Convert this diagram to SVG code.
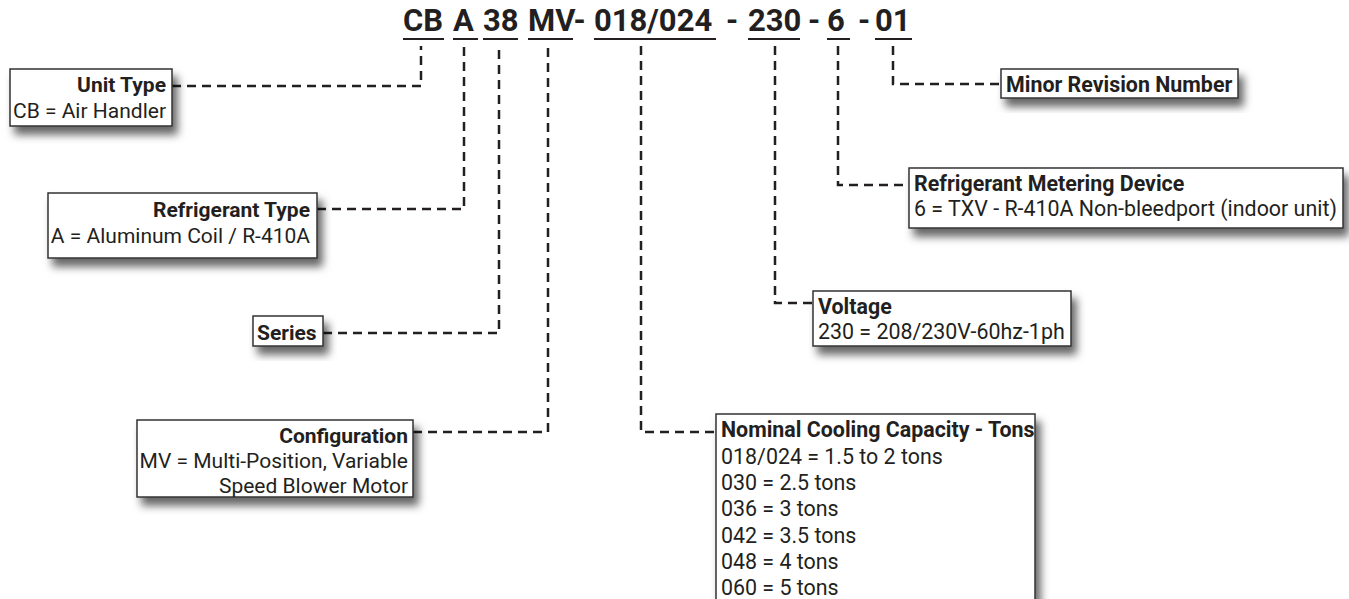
<svg xmlns="http://www.w3.org/2000/svg" width="1349" height="599" viewBox="0 0 1349 599">
<defs>
<filter id="sh" x="-10%" y="-20%" width="130%" height="170%">
<feDropShadow dx="5" dy="8" stdDeviation="4" flood-color="#000" flood-opacity="0.6"/>
</filter>
</defs>
<style>
.t{font-family:Roboto,"Liberation Sans",sans-serif;font-size:21.4px;fill:#231f20}
.l{font-size:21px}
.b{font-weight:bold}
.r{text-anchor:end}
.h{font-family:Roboto,"Liberation Sans",sans-serif;font-size:31px;font-weight:bold;fill:#231f20}
.box{fill:#fff;stroke:#333;stroke-width:1.5;filter:url(#sh)}
.c{fill:none;stroke:#231f20;stroke-width:2.5;stroke-dasharray:9 6}
.u{stroke:#231f20;stroke-width:2}
</style>
<rect width="1349" height="599" fill="#fff"/>
<g id="title">
<text class="h" y="31"><tspan x="403">CB</tspan><tspan x="453">A</tspan><tspan x="483">38</tspan><tspan x="528">MV-</tspan><tspan x="594">018/024</tspan><tspan x="726">-</tspan><tspan x="748">230</tspan><tspan x="808">-</tspan><tspan x="827">6</tspan><tspan x="858">-</tspan><tspan x="875">01</tspan></text>
<line class="u" x1="403" y1="39" x2="444" y2="39"/>
<line class="u" x1="453" y1="39" x2="478" y2="39"/>
<line class="u" x1="483" y1="39" x2="518" y2="39"/>
<line class="u" x1="528" y1="39" x2="573" y2="39"/>
<line class="u" x1="594" y1="39" x2="716" y2="39"/>
<line class="u" x1="748" y1="39" x2="800" y2="39"/>
<line class="u" x1="827" y1="39" x2="850" y2="39"/>
<line class="u" x1="875" y1="39" x2="912" y2="39"/>
</g>
<g id="connectors">
<path class="c" d="M172,86 H421 V46"/>
<path class="c" d="M317,209 H464 V46"/>
<path class="c" d="M323,333 H499 V46"/>
<path class="c" d="M413,432 H548 V46"/>
<path class="c" d="M641,46 V432 H716"/>
<path class="c" d="M775,46 V303 H813"/>
<path class="c" d="M838,46 V185 H909"/>
<path class="c" d="M893,46 V84 H1001"/>
</g>
<g id="unit-type">
<rect class="box" x="10" y="69" width="162" height="57"/>
<text class="t l b r" x="166" y="92">Unit Type</text>
<text class="t l r" x="166" y="118">CB = Air Handler</text>
</g>
<g id="refrigerant-type">
<rect class="box" x="48" y="193" width="269" height="65"/>
<text class="t l b r" x="310" y="217">Refrigerant Type</text>
<text class="t l r" x="310" y="243">A = Aluminum Coil / R-410A</text>
</g>
<g id="series">
<rect class="box" x="253" y="316" width="70" height="30"/>
<text class="t l b" x="257" y="340">Series</text>
</g>
<g id="configuration">
<rect class="box" x="137" y="420" width="276" height="77"/>
<text class="t l b r" x="408" y="443">Configuration</text>
<text class="t l r" x="408" y="468">MV = Multi-Position, Variable</text>
<text class="t l r" x="408" y="493">Speed Blower Motor</text>
</g>
<g id="nominal-capacity">
<rect class="box" x="716" y="414" width="319" height="210"/>
<text class="t b" x="721" y="437">Nominal Cooling Capacity - Tons</text>
<text class="t" x="721" y="464">018/024 = 1.5 to 2 tons</text>
<text class="t" x="721" y="490">030 = 2.5 tons</text>
<text class="t" x="721" y="516">036 = 3 tons</text>
<text class="t" x="721" y="543">042 = 3.5 tons</text>
<text class="t" x="721" y="569">048 = 4 tons</text>
<text class="t" x="721" y="595">060 = 5 tons</text>
</g>
<g id="voltage">
<rect class="box" x="813" y="291" width="258" height="55"/>
<text class="t b" x="818" y="314">Voltage</text>
<text class="t" x="818" y="339">230 = 208/230V-60hz-1ph</text>
</g>
<g id="metering-device">
<rect class="box" x="909" y="168" width="434" height="60"/>
<text class="t b" x="914" y="191">Refrigerant Metering Device</text>
<text class="t" x="914" y="216">6 = TXV - R-410A Non-bleedport (indoor unit)</text>
</g>
<g id="minor-revision">
<rect class="box" x="1001" y="69" width="237" height="29"/>
<text class="t b" x="1006" y="92">Minor Revision Number</text>
</g>
</svg>
